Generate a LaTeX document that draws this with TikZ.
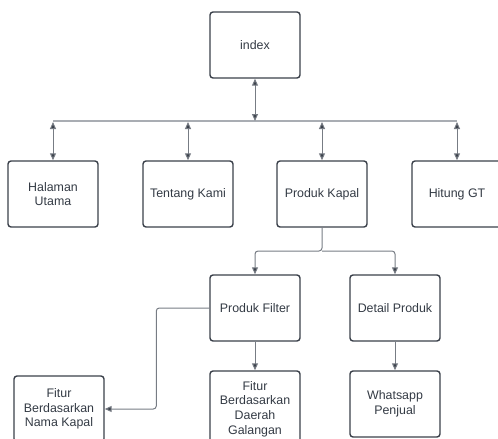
\documentclass[tikz,border=0pt]{standalone}
\usepackage{fontspec}
\setmainfont{Liberation Sans}
\usetikzlibrary{shapes,arrows.meta}
\definecolor{boxline}{HTML}{3A404A}
\definecolor{txt}{HTML}{333A44}
\definecolor{wire}{HTML}{777C84}
\definecolor{bar}{HTML}{A9ADB3}
\tikzstyle{block} = [rectangle, draw=boxline, line width=1.4pt, text=txt,
    minimum width=90pt, minimum height=66pt, align=center, rounded corners=3pt,
    font=\fontsize{12.4}{14.6}\selectfont]
\tikzstyle{line} = [draw=wire, line width=1pt, rounded corners=3pt,
    -{Triangle[length=7pt,width=6pt,fill=boxline]}]
\tikzstyle{both} = [draw=wire, line width=1pt,
    {Triangle[length=7pt,width=6pt,fill=boxline]}-{Triangle[length=7pt,width=6pt,fill=boxline]}]

\begin{document}
\begin{tikzpicture}[x=1pt, y=1pt, node distance = 135pt]
    \useasboundingbox (0,0) rectangle (498,-439);
    % Place nodes
    \node [block] (index) at (255,-45) {index};
    \node [block] (halaman) at (53,-194) {Halaman\\Utama};
    \node [block, right of=halaman] (tentang) {Tentang Kami};
    \node [block, right of=tentang, node distance=134pt] (kapal) {Produk Kapal};
    \node [block, right of=kapal] (hitung) {Hitung GT};
    \node [block, below of=index, node distance=263pt] (filter) {Produk Filter};
    \node [block, right of=filter, node distance=140pt] (detail) {Detail Produk};
    \node [block, below of=filter, node distance=101pt, minimum height=76pt] (daerah) {Fitur\\Berdasarkan\\Daerah\\Galangan};
    \node [block, below of=detail, node distance=96pt] (wa) {Whatsapp\\Penjual};
    \node [block, left of=daerah, node distance=196pt] (nama) {Fitur\\Berdasarkan\\Nama Kapal};
    % Helper points
    \coordinate [below of=index, node distance=76pt] (bus);
    \coordinate [below of=kapal, node distance=57pt] (split);
    % Draw edges
    \path [draw=bar, line width=1.2pt] (halaman |- bus) -- (hitung |- bus);
    \path [both] (index.south) -- (bus);
    \path [both] ([yshift=-1pt]halaman |- bus) -- (halaman.north);
    \path [both] ([yshift=-1pt]tentang |- bus) -- (tentang.north);
    \path [both] ([yshift=-1pt]kapal |- bus) -- (kapal.north);
    \path [both] ([yshift=-1pt]hitung |- bus) -- (hitung.north);
    \path [line] (kapal.south) -- (split) -| (filter.north);
    \path [line] (split) -| (detail.north);
    \path [line] (filter.south) -- (daerah.north);
    \path [line] (detail.south) -- (wa.north);
    \path [line] (filter.west) -- ++(-53,0) |- (nama.east);
\end{tikzpicture}
\end{document}
